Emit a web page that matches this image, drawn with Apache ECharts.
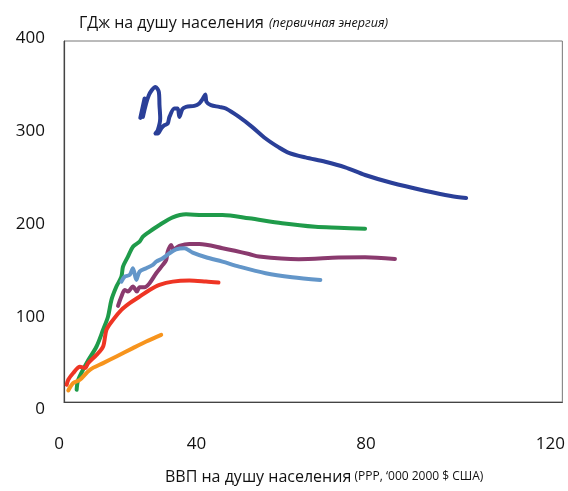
<!DOCTYPE html>
<html>
<head>
<meta charset="utf-8">
<script src="https://cdn.jsdelivr.net/npm/echarts@6/dist/echarts.min.js"></script>
<style>
html,body{margin:0;padding:0;background:#fff;}
#chart{width:568px;height:491px;}
</style>
</head>
<body>
<div id="chart"></div>
<script>
// x: GDP per capita ('000 2000 US$ PPP), y: GJ per capita (primary energy)
const xTicks = [0, 40, 80, 120];
const yTicks = [0, 100, 200, 300, 400];

const darkBlue = [[19.14,314.8],[20.21,336.3],[19.79,315.9],[21.28,339.9],[22.95,349.1],[23.78,343.6],[23.95,328.9],[24.13,314.2],[23.53,301.2],[22.95,297.6],[23.53,297.6],[24.38,303.1],[25.2,306.7],[26.02,308.6],[26.45,315.9],[27.69,325.2],[28.52,325.2],[28.94,315.9],[29.69,324.4],[30.61,327],[32.68,328.1],[33.93,330.8],[34.76,335.5],[35.43,340.7],[35.75,332.5],[36.85,328.9],[38.92,327],[40.59,325.2],[43.91,315.9],[47.16,304.9],[50.57,292],[53.89,282.1],[56.39,276.1],[60.55,271],[65.54,266.2],[70.53,260],[75.52,251.5],[82.09,242.9],[90.49,234.1],[97.06,228.2],[100.87,226]];

const green = [[3.17,13.6],[3.57,24.7],[5.66,43.1],[8.16,61.5],[9.81,80],[11.05,94.7],[11.9,113.2],[13.15,127.9],[14.4,138.9],[14.8,150],[16.04,161.1],[17.29,172.1],[18.96,177.7],[19.79,183.2],[21.46,188.7],[23.95,196.1],[27.27,204.6],[30.61,208],[34.76,207.2],[39.75,207.2],[46.41,203.5],[54.72,198],[63.05,194.1],[68.86,193.1],[75.52,192]];

const purple = [[13.55,106.5],[14.4,116.8],[15.22,124.2],[16.04,122.3],[17.29,127.9],[18.29,122.3],[18.96,127.2],[20.21,127.2],[21.46,131.6],[23.13,142.7],[24.78,151.9],[25.62,157.4],[26.02,166.6],[26.87,174],[27.45,169.2],[28.94,172.9],[31.44,175.1],[33.93,175.1],[39.75,170.4],[46.41,164],[48.9,161.1],[58.88,158.2],[68.86,160],[75.52,160.4],[83.01,158.5]];

const lightBlue = [[14.4,133.4],[15.22,138.9],[16.47,140.8],[17.29,148.2],[18.14,135.3],[18.96,144.5],[20.63,148.2],[22.28,151.9],[23.13,155.5],[24.78,159.3],[26.45,164.8],[28.12,169.2],[30.19,170.4],[32.26,165.5],[35.6,160.4],[39.75,155.5],[43.91,150],[50.57,142.7],[57.21,138.3],[64.3,135.3]];

const red = [[0.67,19.1],[1.07,24.7],[2.32,32.1],[3.99,39],[5.24,37.6],[6.06,43.1],[8.16,52.3],[9.81,61.5],[10.65,80],[12.3,91],[14.4,102.1],[16.47,109.5],[18.96,116.8],[21.46,124.2],[23.95,129.8],[27.27,133.4],[31.44,134.5],[35.6,133.4],[38.75,132.3]];

const orange = [[1.07,12.8],[2.32,21],[3.99,24.7],[6.49,35.7],[9.81,43.1],[13.15,50.4],[17.29,59.7],[20.63,67],[24.38,74.4]];

const seriesDefs = [
  {name:'darkBlue', data: darkBlue, color:'#2a3f98'},
  {name:'green', data: green, color:'#1f9b4a'},
  {name:'purple', data: purple, color:'#8a3a6e'},
  {name:'lightBlue', data: lightBlue, color:'#6396c9'},
  {name:'red', data: red, color:'#ee3524'},
  {name:'orange', data: orange, color:'#f7941d'}
];

const FONT = '"Open Sans", "Noto Sans", sans-serif';
const labelBase = {fontFamily:FONT, fontSize:17, color:'#111'};
// small nudges so the tick labels sit where the original artwork placed them
const xRich = {
  x0:   Object.assign({padding:[0,10,0,0]}, labelBase),
  x40:  Object.assign({padding:[0,54,0,0]}, labelBase),
  x80:  Object.assign({padding:[0,34,0,0]}, labelBase),
  x120: Object.assign({padding:[0,0,0,16]}, labelBase)
};
const yRich = {
  y0:   Object.assign({padding:[14,0,0,0]}, labelBase),
  y100: Object.assign({padding:[10,0,0,0]}, labelBase),
  y200: Object.assign({padding:[6,0,0,0]}, labelBase),
  y300: Object.assign({padding:[0,0,0,0]}, labelBase),
  y400: Object.assign({padding:[0,0,6,0]}, labelBase)
};

const chart = echarts.init(document.getElementById('chart'), null, {renderer:'canvas'});
chart.setOption({
  backgroundColor:'#fff',
  animation:false,
  title:{
    left:74, top:9,
    text:'{a|ГДж на душу населения} {b|(первичная энергия)}',
    textStyle:{
      fontWeight:'normal',
      rich:{
        a:{fontFamily:FONT, fontSize:16, fontWeight:'normal', color:'#111'},
        b:{fontFamily:FONT, fontSize:12.5, fontWeight:'normal', fontStyle:'italic', color:'#111'}
      }
    }
  },
  grid:{left:64, right:3, top:41, bottom:89, show:true, borderColor:'#777', borderWidth:1},
  xAxis:{
    type:'value', min:0, max:125, interval:40,
    axisLine:{show:true, lineStyle:{color:'#444', width:1.2}},
    axisTick:{show:false}, splitLine:{show:false},
    axisLabel:{
      margin:34, fontFamily:FONT, fontSize:17, color:'#111', rich:xRich,
      formatter:function(v){ return xTicks.indexOf(v) >= 0 ? '{x' + v + '|' + v + '}' : ''; }
    },
    name:'{a|ВВП на душу населения} {b|(PPP, ‘000 2000 $ США)}',
    nameLocation:'middle', nameGap:67,
    nameTextStyle:{
      padding:[0,0,0,22],
      rich:{
        a:{fontFamily:FONT, fontSize:16, color:'#111'},
        b:{fontFamily:FONT, fontSize:12, color:'#111'}
      }
    }
  },
  yAxis:{
    type:'value', min:0, max:400, interval:100,
    axisLine:{show:true, lineStyle:{color:'#444', width:1.2}},
    axisTick:{show:false}, splitLine:{show:false},
    axisLabel:{
      margin:19, fontFamily:FONT, fontSize:17, color:'#111', rich:yRich,
      formatter:function(v){ return yTicks.indexOf(v) >= 0 ? '{y' + v + '|' + v + '}' : ''; }
    }
  },
  series: seriesDefs.map(s => ({
    type:'line', name:s.name, data:s.data, showSymbol:false, symbol:'none',
    smooth:0.3, clip:false,
    lineStyle:{color:s.color, width:4, cap:'round', join:'round'},
    itemStyle:{color:s.color}
  }))
});
</script>
</body>
</html>
